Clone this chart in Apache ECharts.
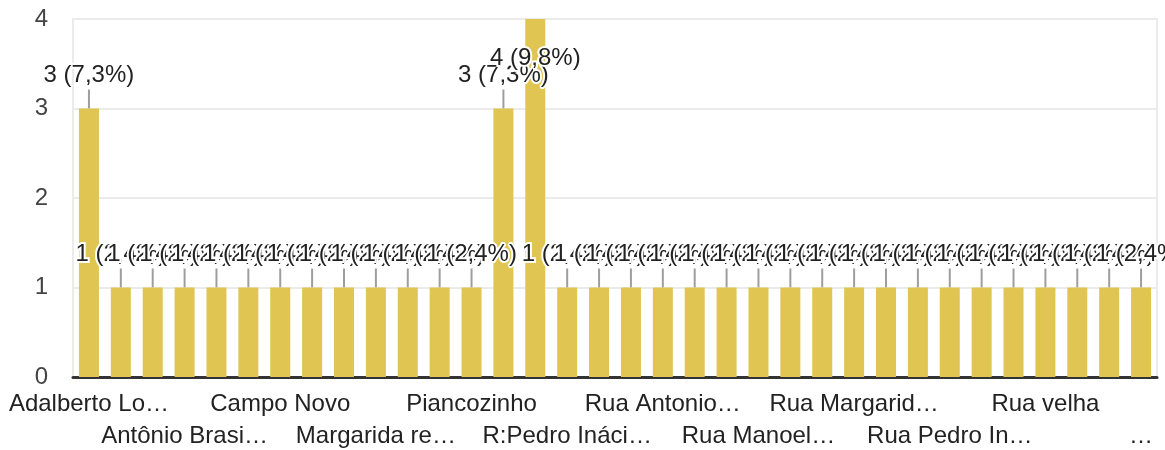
<!DOCTYPE html>
<html>
<head>
<meta charset="utf-8">
<script src="https://cdn.jsdelivr.net/npm/echarts@6/dist/echarts.min.js"></script>
<style>
html,body{margin:0;padding:0;background:#fff;}
#chart{width:1165px;height:450px;}
</style>
</head>
<body>
<div id="chart"></div>
<script>
// Category labels as shown on the axis (truncated as in the picture; unlabelled ones are placeholders)
const categories = [
  "Adalberto Lo…", "Alto da Boa Vista", "Alto do Cruzeiro", "Antônio Brasi…",
  "Bairro Novo", "Boa Esperança", "Campo Novo", "Centro", "Conjunto Habitacional",
  "Margarida re…", "Nova Brasília", "Pedro Inácio", "Piancozinho",
  "Povoado Piancozinho", "R. Pedro Inácio", "R:Pedro Ináci…",
  "Rua 7 de Setembro", "Rua Adalberto Lopes", "Rua Antonio…",
  "Rua Antônio Brasileiro", "Rua José Pereira", "Rua Manoel…",
  "Rua Manoel Leite", "Rua Margarida", "Rua Margarid…", "Rua Nova",
  "Rua Pedro II", "Rua Pedro In…", "Rua Projetada", "Rua São José",
  "Rua velha", "Sítio Cachoeira", "Sítio Olho d'Água", "…"
];
const values = [3, 1, 1, 1, 1, 1, 1, 1, 1, 1, 1, 1, 1, 3, 4, 1, 1, 1, 1, 1, 1, 1, 1, 1, 1, 1, 1, 1, 1, 1, 1, 1, 1, 1];
const yTicks = [0, 1, 2, 3, 4];

const total = values.reduce((a, b) => a + b, 0);
const yMax = yTicks[yTicks.length - 1];
const font = "'Liberation Sans', Arial, sans-serif";

const chart = echarts.init(document.getElementById('chart'), null, {renderer: 'canvas'});
const labelCfg = (rowFirst) => ({
  show: true,
  interval: (i) => rowFirst ? (i % 6 === 0) : (i % 6 === 3),
  color: '#222',
  fontSize: 24,
  fontFamily: font,
  margin: 15
});

chart.setOption({
  animation: false,
  grid: {left: 73, right: 8, top: 19, bottom: 73, show: true, borderColor: '#ebebeb', borderWidth: 2},
  xAxis: [
    {
      type: 'category', data: categories, position: 'bottom',
      axisLine: {show: true, lineStyle: {color: '#333', width: 3}},
      axisTick: {show: false},
      splitLine: {show: false},
      axisLabel: labelCfg(true)
    },
    {
      type: 'category', data: categories, position: 'bottom', offset: 32,
      axisLine: {show: false}, axisTick: {show: false}, splitLine: {show: false},
      axisLabel: labelCfg(false)
    }
  ],
  yAxis: {
    type: 'value', min: 0, max: yMax, interval: 1,
    axisLine: {show: false}, axisTick: {show: false},
    splitLine: {show: true, lineStyle: {color: '#ebebeb', width: 2}},
    axisLabel: {color: '#444', fontSize: 24, fontFamily: font, margin: 25}
  },
  series: [{
    type: 'bar',
    data: values,
    barWidth: 20,
    itemStyle: {color: '#e0c552'},
    label: {
      show: true, position: 'top', distance: 5,
      color: '#222', fontSize: 24, fontFamily: font,
      textBorderColor: '#fff', textBorderWidth: 4,
      formatter: (p) => p.value + ' (' + (p.value / total * 100).toFixed(1).replace('.', ',') + '%)'
    },
    labelLine: {show: true, lineStyle: {color: '#9e9e9e', width: 2}},
    labelLayout: (p) => (values[p.dataIndex] === yMax ? {dy: 56} : {dy: -16})
  }]
});
</script>
</body>
</html>
